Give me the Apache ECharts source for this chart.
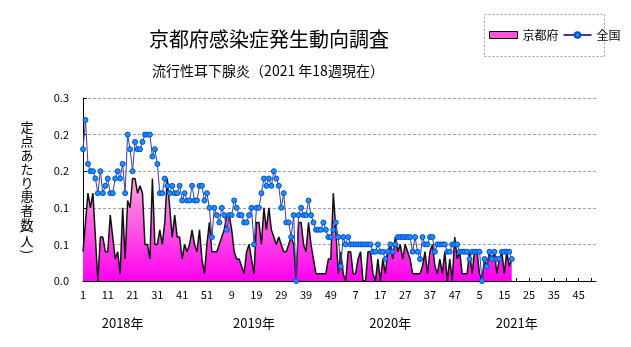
<!DOCTYPE html>
<html><head><meta charset="utf-8">
<script src="https://cdn.jsdelivr.net/npm/echarts@6/dist/echarts.min.js"></script>
<style>html,body{margin:0;padding:0;background:#fff}#c{width:631px;height:347px}</style>
</head><body><div id="c"></div>
<script>
// ---- data ----
const years = [2018, 2019, 2020, 2021];
const weeksPerYear = 52;
const kyoto = [
0.04,0.08,0.12,0.10,0.12,0.06,0.00,0.06,0.06,0.04,0.04,0.09,0.06,0.03,0.04,0.01,0.10,0.03,0.11,0.10,
0.14,0.14,0.12,0.13,0.12,0.05,0.05,0.03,0.14,0.05,0.05,0.07,0.05,0.08,0.14,0.10,0.06,0.09,0.06,0.06,
0.03,0.05,0.04,0.05,0.07,0.05,0.04,0.07,0.03,0.01,0.05,0.08,0.04,0.04,0.04,0.05,0.06,0.07,0.09,0.09,
0.07,0.04,0.03,0.03,0.02,0.01,0.04,0.05,0.03,0.01,0.08,0.08,0.05,0.10,0.07,0.10,0.07,0.06,0.05,0.06,
0.05,0.04,0.04,0.05,0.06,0.05,0.00,0.08,0.08,0.05,0.04,0.08,0.05,0.03,0.01,0.01,0.01,0.01,0.01,0.03,
0.03,0.12,0.07,0.01,0.04,0.01,0.00,0.04,0.04,0.01,0.01,0.03,0.04,0.00,0.00,0.04,0.04,0.01,0.00,0.03,
0.00,0.03,0.01,0.04,0.05,0.03,0.06,0.04,0.05,0.03,0.05,0.04,0.03,0.01,0.01,0.01,0.01,0.02,0.04,0.01,
0.04,0.05,0.02,0.01,0.03,0.01,0.04,0.00,0.03,0.00,0.06,0.03,0.04,0.01,0.01,0.01,0.04,0.01,0.04,0.04,
0.01,0.00,0.03,0.02,0.04,0.03,0.04,0.01,0.03,0.04,0.01,0.04,0.02,0.03
];
const national = [
0.18,0.22,0.16,0.15,0.15,0.14,0.12,0.15,0.12,0.13,0.14,0.12,0.12,0.14,0.15,0.14,0.16,0.12,0.20,0.18,
0.15,0.19,0.18,0.18,0.19,0.20,0.20,0.20,0.17,0.18,0.16,0.12,0.12,0.14,0.13,0.12,0.13,0.12,0.12,0.13,
0.11,0.12,0.11,0.11,0.13,0.11,0.11,0.13,0.13,0.11,0.12,0.10,0.06,0.10,0.09,0.08,0.10,0.09,0.07,0.09,
0.09,0.11,0.10,0.09,0.09,0.08,0.08,0.09,0.10,0.05,0.10,0.10,0.12,0.14,0.13,0.14,0.13,0.15,0.14,0.13,
0.10,0.12,0.08,0.08,0.06,0.09,0.00,0.09,0.10,0.09,0.09,0.11,0.09,0.08,0.07,0.07,0.07,0.08,0.07,0.06,
0.06,0.07,0.08,0.06,0.02,0.06,0.05,0.06,0.05,0.05,0.05,0.05,0.05,0.05,0.05,0.05,0.05,0.04,0.04,0.05,
0.04,0.04,0.03,0.04,0.05,0.04,0.05,0.06,0.06,0.06,0.06,0.06,0.06,0.04,0.06,0.04,0.03,0.06,0.05,0.05,
0.06,0.06,0.04,0.05,0.05,0.05,0.05,0.04,0.04,0.05,0.05,0.05,0.04,0.04,0.04,0.04,0.03,0.04,0.04,0.04,
0.04,0.00,0.03,0.02,0.04,0.03,0.04,0.03,0.03,0.04,0.04,0.04,0.04,0.03
];
const yTickLabels = ['0.0','0.1','0.1','0.2','0.2','0.3'];
const yearLabels = ['2018年','2019年','2020年','2021年'];
const yearLabelAt = [16, 69, 124, 175];
const seriesNames = ['京都府','全国'];
const titleText = '京都府感染症発生動向調査';
const subtitleText = '流行性耳下腺炎（2021 年18週現在）';
const yTitleChars = ['定','点','あ','た','り','患','者','数'];

const categories = [], weekLabels = [];
years.forEach(y => { for (let w = 1; w <= weeksPerYear; w++) { categories.push(y + '年' + w + '週'); weekLabels.push(String(w)); } });

const FONT = '"Noto Sans CJK JP", sans-serif';
const chart = echarts.init(document.getElementById('c'), null, {renderer: 'canvas'});

const option = {
  animation: false,
  backgroundColor: '#fff',
  grid: {left: 83, right: 35, top: 98, bottom: 66},
  legend: {
    left: 489, top: 29, itemWidth: 28, itemHeight: 7, itemGap: 4, padding: 0,
    textStyle: {fontSize: 12, color: '#000', fontFamily: FONT},
    data: [
      {name: seriesNames[0], icon: 'rect', itemStyle: {color: '#ff55dd', borderColor: '#000', borderWidth: 1}},
      {name: seriesNames[1]}
    ]
  },
  xAxis: {
    type: 'category', data: categories, boundaryGap: false,
    axisLine: {lineStyle: {color: '#000', width: 1}},
    axisTick: {inside: true, length: 3, interval: 4, lineStyle: {color: '#000'}},
    axisLabel: {interval: 9, formatter: (v, i) => weekLabels[i], fontSize: 11, color: '#000', margin: 8, fontFamily: FONT},
    splitLine: {show: false}
  },
  yAxis: {
    type: 'value', min: 0, max: 0.25, interval: 0.05,
    axisLine: {show: true, lineStyle: {color: '#000', width: 1}},
    axisTick: {show: true, inside: true, length: 4, lineStyle: {color: '#000'}},
    axisLabel: {formatter: v => yTickLabels[Math.round(v / 0.05)], margin: 14, fontSize: 11, color: '#000', fontFamily: FONT},
    splitLine: {lineStyle: {type: [3, 2], color: '#a0a0a0', width: 1}}
  },
  series: [
    {
      name: seriesNames[0], type: 'line', data: kyoto, symbol: 'none', z: 2,
      lineStyle: {color: '#111', width: 1.5},
      itemStyle: {color: '#ff55dd'},
      areaStyle: {opacity: 1, color: new echarts.graphic.LinearGradient(0, 0, 0, 1, [
        {offset: 0, color: '#ffa8dc'}, {offset: 1, color: '#ff00ee'}])}
    },
    {
      name: seriesNames[1], type: 'line', data: national, symbol: 'circle', symbolSize: 5, z: 3,
      showAllSymbol: true,
      lineStyle: {color: '#3c3c9c', width: 1},
      itemStyle: {color: '#1e90ff', borderColor: '#0050d0', borderWidth: 1}
    }
  ]
};
chart.setOption(option);

const g = [];
g.push({type: 'text', x: 269, y: 39, style: {text: titleText, fill: '#000', font: '20px ' + FONT, textAlign: 'center', textVerticalAlign: 'middle'}});
g.push({type: 'text', x: 268, y: 71, style: {text: subtitleText, fill: '#000', font: '14px ' + FONT, textAlign: 'center', textVerticalAlign: 'middle'}});
g.push({type: 'rect', shape: {x: 484.5, y: 14.5, width: 120, height: 42}, style: {fill: 'none', stroke: '#a898b8', lineWidth: 1, lineDash: [2, 2]}});
yTitleChars.forEach((ch, k) => {
  g.push({type: 'text', x: 27, y: 127 + k * 13.9, style: {text: ch, font: '13px ' + FONT, fill: '#000', textAlign: 'center', textVerticalAlign: 'middle'}});
});
g.push({type: 'text', x: 27, y: 231, rotation: -Math.PI / 2, style: {text: '(', font: '13px ' + FONT, fill: '#000', textAlign: 'center', textVerticalAlign: 'middle'}});
g.push({type: 'text', x: 27, y: 241, style: {text: '人', font: '13px ' + FONT, fill: '#000', textAlign: 'center', textVerticalAlign: 'middle'}});
g.push({type: 'text', x: 27, y: 252, rotation: -Math.PI / 2, style: {text: ')', font: '13px ' + FONT, fill: '#000', textAlign: 'center', textVerticalAlign: 'middle'}});
yearLabels.forEach((t, k) => {
  const p = chart.convertToPixel({gridIndex: 0}, [yearLabelAt[k], 0]);
  g.push({type: 'text', x: p[0], y: 323, style: {text: t, font: '13px ' + FONT, fill: '#000', textAlign: 'center', textVerticalAlign: 'middle'}});
});
chart.setOption({graphic: g});
</script></body></html>
